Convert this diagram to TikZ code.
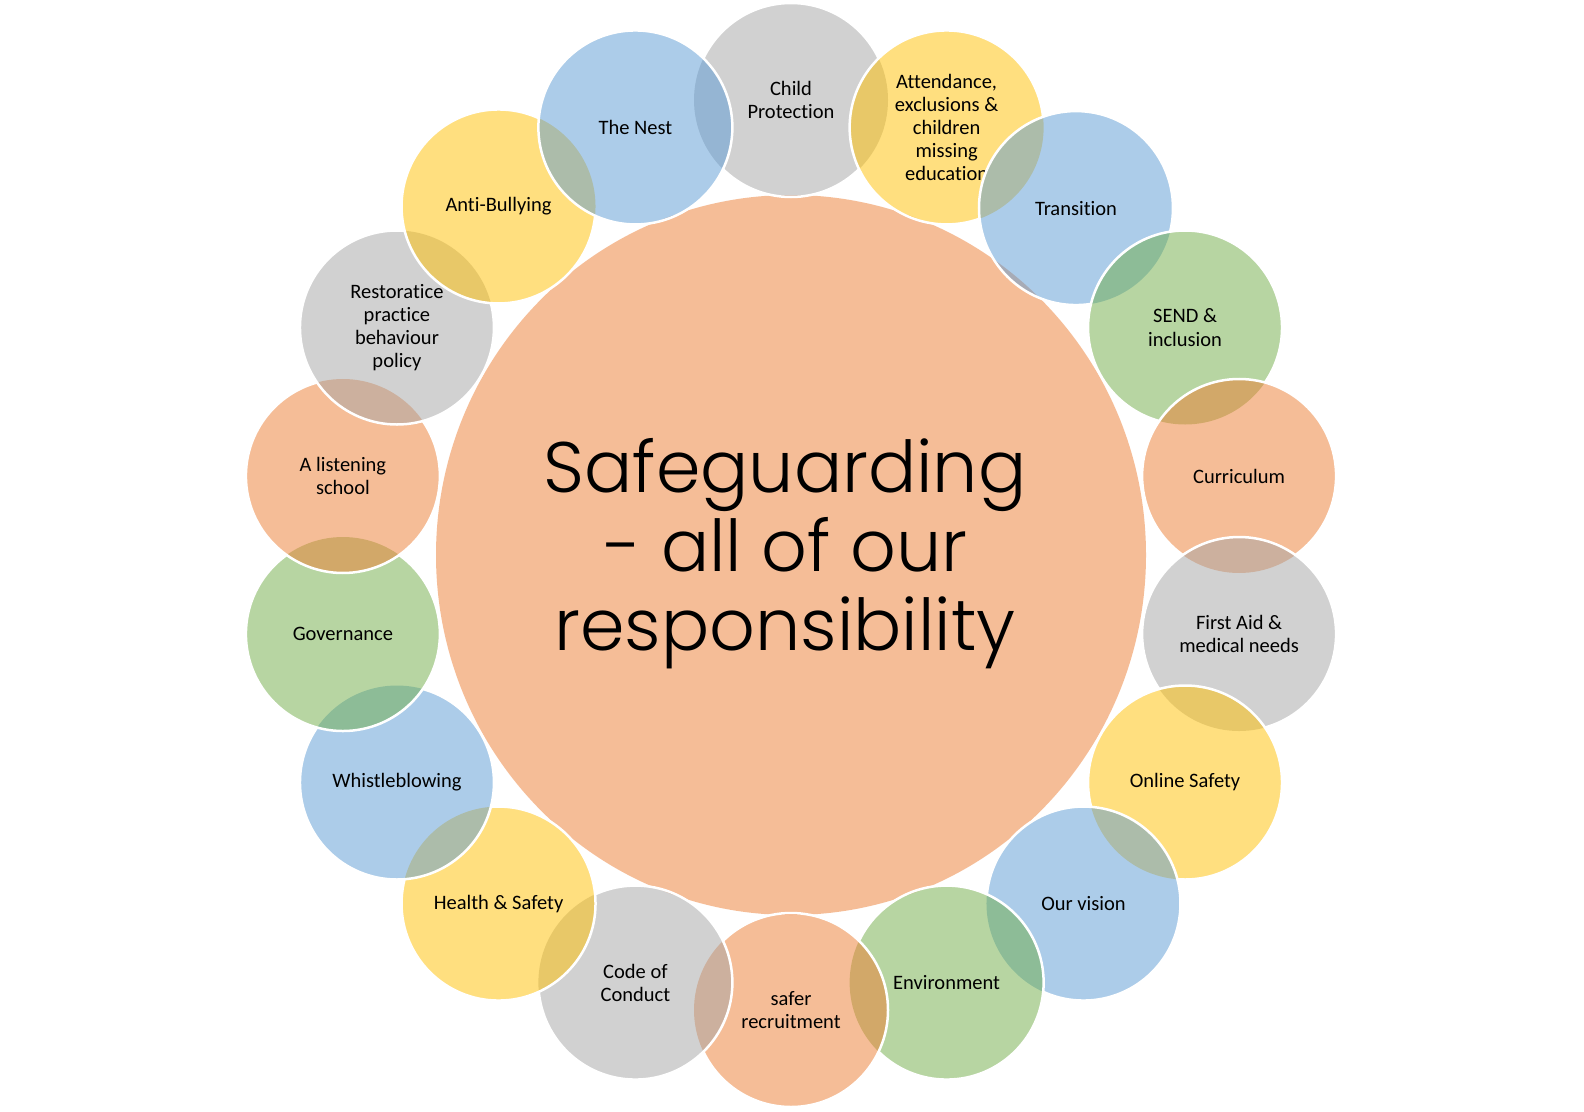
\documentclass[tikz,border=0pt]{standalone}
\usepackage{fontspec}
\setmainfont{Carlito}[Ligatures=NoCommon]
\newfontfamily\gothic{Poppins Light}[Ligatures=NoCommon]
\usetikzlibrary{calc,shapes.geometric}
\definecolor{cgray}{HTML}{A5A5A5}
\definecolor{cyellow}{HTML}{FFC000}
\definecolor{cblue}{HTML}{5B9BD5}
\definecolor{cgreen}{HTML}{70AD47}
\definecolor{corange}{HTML}{ED7D31}
\begin{document}
\begin{tikzpicture}[x=1pt,y=-1pt,
  hub/.style={ellipse, minimum width=710pt, minimum height=720pt, inner sep=0pt, outer sep=0pt, fill=corange, fill opacity=0.5},
  hubtext/.style={anchor=base, text=black, font=\gothic\fontsize{71.5}{71.5}\selectfont},
  bubblefill/.style={circle, minimum size=194pt, inner sep=0pt, outer sep=0pt, fill=#1, fill opacity=0.5},
  bubbleline/.style={circle, minimum size=194pt, inner sep=0pt, outer sep=0pt, draw=white, line width=2.5pt, align=center, text=black, font=\fontsize{20.5}{23.2}\selectfont}]
\fill[white] (0,0) rectangle (1584,1111);
\useasboundingbox (0,0) rectangle (1584,1111);
\coordinate (C) at (791,555);
% positions of the satellites
\foreach \i/\ang/\dd in {1/90/455, 2/70/455, 3/50.6/449, 4/30/455, 5/10/455, 6/-10/455,
  7/-30/455, 8/-50/455, 9/-70/455, 10/-90/455, 11/-110/455, 12/-130/455,
  13/-150/455, 14/-170/455, 15/170/455, 16/150/455, 17/130/455, 18/110/455}
  {\coordinate (p\i) at ($(C)+(\ang:\dd pt)$);}
\coordinate (p19) at (5000,5000);
\node[hub] (hub) at (C) {};
\node[hubtext] (h1) at (785,492) {Safeguarding};
\node[hubtext] (h2) at (786,571) {- all of our};
\node[hubtext] (h3) at (785,650) {responsibility};
\foreach \i/\col/\txt in {
  1/cgray/{Child\\Protection},
  2/cyellow/{Attendance,\\exclusions \&\\children\\missing\\education},
  3/cblue/{Transition},
  4/cgreen/{SEND \&\\inclusion},
  5/corange/{Curriculum},
  6/cgray/{First Aid \&\\medical needs},
  7/cyellow/{Online Safety},
  8/cblue/{Our vision},
  9/cgreen/{Environment},
  10/corange/{safer\\recruitment},
  11/cgray/{Code of\\Conduct},
  12/cyellow/{Health \& Safety},
  13/cblue/{Whistleblowing},
  14/cgreen/{Governance},
  15/corange/{A listening\\school},
  16/cgray/{Restoratice\\practice\\behaviour\\policy},
  17/cyellow/{Anti-Bullying},
  18/cblue/{The Nest}}{
  \pgfmathtruncatemacro\nx{\i+1}
  \pgfmathtruncatemacro\ex{\i==1 ? 18 : 19}
  \node[bubblefill=\col] (c\i) at (p\i) {};
  \begin{scope}[even odd rule]
    \clip (-20,-20) rectangle (1604,1131)
      (p\nx) circle[radius=97pt]
      (p\ex) circle[radius=97pt];
    \node[bubbleline] (t\i) at (c\i) {\txt};
  \end{scope}
}
\end{tikzpicture}
\end{document}
